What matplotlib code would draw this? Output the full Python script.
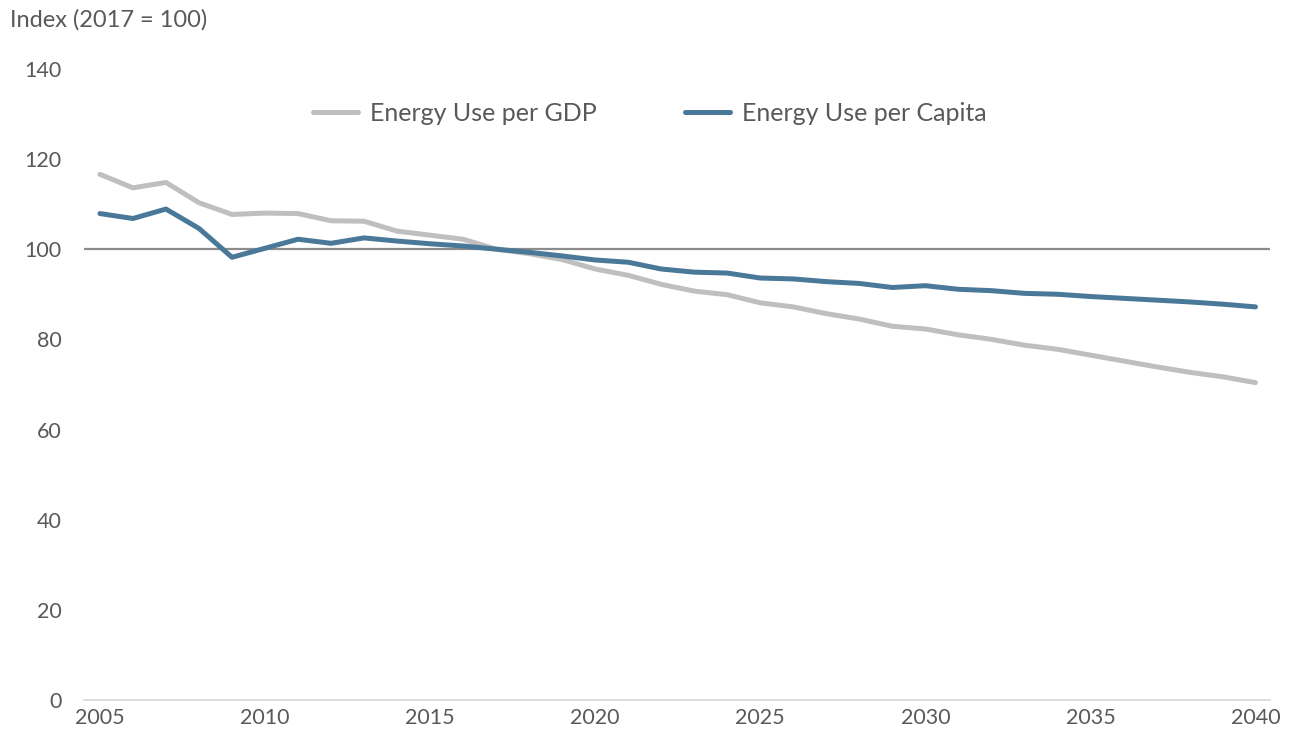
import matplotlib
matplotlib.use("Agg")
import matplotlib.pyplot as plt

# Index values, 2017 = 100
years = list(range(2005, 2041))
energy_per_gdp = [
    116.6, 113.6, 114.8, 110.3, 107.7, 108.0, 107.9, 106.3, 106.2, 104.0,
    103.1, 102.2, 100.0, 99.0, 97.7, 95.6, 94.2, 92.2, 90.7, 89.9,
    88.1, 87.2, 85.7, 84.5, 82.9, 82.3, 81.0, 80.0, 78.7, 77.8,
    76.5, 75.2, 73.9, 72.7, 71.7, 70.4,
]
energy_per_capita = [
    107.9, 106.8, 108.9, 104.6, 98.2, 100.2, 102.2, 101.3, 102.5, 101.8,
    101.2, 100.7, 100.0, 99.3, 98.5, 97.6, 97.1, 95.6, 94.9, 94.7,
    93.6, 93.4, 92.8, 92.4, 91.5, 91.9, 91.1, 90.8, 90.2, 90.0,
    89.5, 89.1, 88.7, 88.3, 87.8, 87.2,
]
x_ticks = [2005, 2010, 2015, 2020, 2025, 2030, 2035, 2040]
y_ticks = [0, 20, 40, 60, 80, 100, 120, 140]

plt.rcParams['font.family'] = ['Lato', 'DejaVu Sans']
text_color = '#595959'

fig = plt.figure(figsize=(12.91, 7.40), dpi=100)
ax = fig.add_axes([0.065, 0.054, 0.919, 0.853])

ax.axhline(100, color='#8C8C8C', lw=1.6, zorder=1)
ax.plot(years, energy_per_gdp, color='#BFBFBF', lw=3.6,
        solid_capstyle='round', label='Energy Use per GDP', zorder=2)
ax.plot(years, energy_per_capita, color='#4A7898', lw=3.6,
        solid_capstyle='round', label='Energy Use per Capita', zorder=3)

ax.set_xlim(2004.515, 2040.45)
ax.set_ylim(0, 140)
ax.set_xticks(x_ticks)
ax.set_yticks(y_ticks)
ax.tick_params(axis='both', length=0, labelsize=15.5, labelcolor=text_color)
ax.tick_params(axis='x', pad=6)
ax.tick_params(axis='y', pad=16)

for side in ('top', 'right', 'left'):
    ax.spines[side].set_visible(False)
ax.spines['bottom'].set_color('#D9D9D9')
ax.spines['bottom'].set_linewidth(1.2)

fig.text(0.008, 0.973, 'Index (2017 = 100)', fontsize=17, color=text_color,
         ha='left', va='center')

leg = ax.legend(loc='center', bbox_to_anchor=(0.477, 0.930), ncol=2,
                frameon=False, fontsize=18, handlelength=1.8,
                columnspacing=3.5, handletextpad=0.5)
for t in leg.get_texts():
    t.set_color(text_color)

fig.savefig('out.png', dpi=100)
